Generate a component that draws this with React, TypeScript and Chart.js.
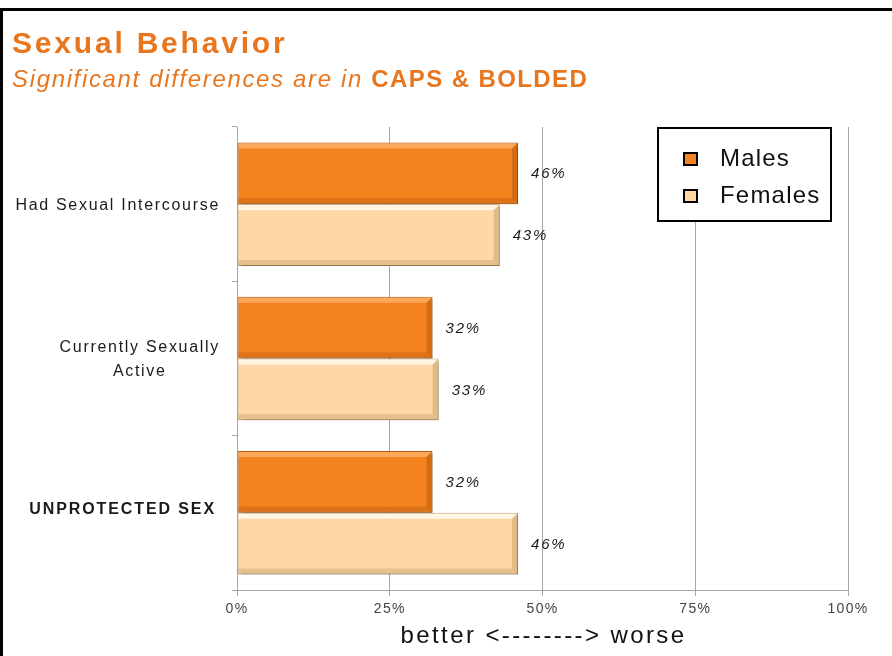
import React, { useEffect, useRef } from 'react';
import { Chart, registerables } from 'chart.js';

Chart.register(...registerables);

// ---- data ----
const categories: (string | string[])[] = ['Had Sexual Intercourse', ['Currently Sexually', 'Active'], 'UNPROTECTED SEX'];
const significant = [false, false, true];
const seriesNames = ['Males', 'Females'];
const malesValues = [46, 32, 32];
const femalesValues = [43, 33, 46];
const xTickStep = 25;
const xMin = 0;
const xMax = 100;
const xAxisTitle = 'better <--------> worse';
const chartTitle = 'Sexual Behavior';
const subtitleItalic = 'Significant differences are in ';
const subtitleBold = 'CAPS & BOLDED';

// ---- styles ----
const FONT = '"Liberation Sans", Arial, sans-serif';
const ORANGE_TEXT = '#E8761E';
const MALE_FILL = '#F4821E';
const MALE_BORDER = '#B95C12';
const FEMALE_FILL = '#FDD8A6';
const FEMALE_BORDER = '#C49E6C';
const GRID = '#A6A6A6';

function drawSpaced(ctx: CanvasRenderingContext2D, text: string, x: number, y: number, spacing: number) {
  (ctx as any).letterSpacing = spacing + 'px';
  ctx.fillText(text, x, y);
}

const decorPlugin = {
  id: 'decor',
  beforeDraw(chart: any) {
    const ctx = chart.ctx as CanvasRenderingContext2D;
    ctx.save();
    ctx.fillStyle = '#ffffff';
    ctx.fillRect(0, 0, chart.width, chart.height);
    ctx.restore();
    (ctx as any).letterSpacing = '1.3px';
  },
  beforeDatasetsDraw(chart: any) {
    const ctx = chart.ctx as CanvasRenderingContext2D;
    ctx.save();
    ctx.shadowColor = 'rgba(0,0,0,0.35)';
    ctx.shadowBlur = 3;
    ctx.shadowOffsetX = 2;
    ctx.shadowOffsetY = 2;
  },
  afterDatasetsDraw(chart: any) {
    const ctx = chart.ctx as CanvasRenderingContext2D;
    ctx.restore();
    // bevel overlays
    chart.data.datasets.forEach((ds: any, di: number) => {
      const meta = chart.getDatasetMeta(di);
      meta.data.forEach((bar: any) => {
        const { x, y, base, height } = bar.getProps(['x', 'y', 'base', 'height'], true);
        const x0 = Math.min(x, base);
        const x1 = Math.max(x, base);
        const y0 = y - height / 2;
        const y1 = y + height / 2;
        const b = 6;
        const light = di === 0 ? 'rgba(255,200,140,0.55)' : 'rgba(255,252,238,0.85)';
        const darkR = di === 0 ? 'rgba(140,60,0,0.30)' : 'rgba(150,110,50,0.28)';
        const darkB = di === 0 ? 'rgba(140,60,0,0.22)' : 'rgba(150,110,50,0.22)';
        ctx.save();
        ctx.fillStyle = light;
        ctx.beginPath();
        ctx.moveTo(x0 + 1, y0 + 1);
        ctx.lineTo(x1 - 1, y0 + 1);
        ctx.lineTo(x1 - b, y0 + b);
        ctx.lineTo(x0 + 1, y0 + b);
        ctx.closePath();
        ctx.fill();
        ctx.fillStyle = darkR;
        ctx.beginPath();
        ctx.moveTo(x1 - 1, y0 + 1);
        ctx.lineTo(x1 - 1, y1 - 1);
        ctx.lineTo(x1 - b, y1 - b);
        ctx.lineTo(x1 - b, y0 + b);
        ctx.closePath();
        ctx.fill();
        ctx.fillStyle = darkB;
        ctx.beginPath();
        ctx.moveTo(x0 + 1, y1 - 1);
        ctx.lineTo(x1 - 1, y1 - 1);
        ctx.lineTo(x1 - b, y1 - b);
        ctx.lineTo(x0 + 1, y1 - b);
        ctx.closePath();
        ctx.fill();
        ctx.restore();
      });
    });
    // value labels
    ctx.save();
    ctx.font = `italic 15px ${FONT}`;
    ctx.fillStyle = '#1a1a1a';
    ctx.textAlign = 'left';
    ctx.textBaseline = 'middle';
    chart.data.datasets.forEach((ds: any, di: number) => {
      const meta = chart.getDatasetMeta(di);
      meta.data.forEach((bar: any, i: number) => {
        const { x, y } = bar.getProps(['x', 'y'], true);
        drawSpaced(ctx, ds.data[i] + '%', x + 13, y + 1, 1.8);
      });
    });
    ctx.restore();
  },
  afterDraw(chart: any) {
    const ctx = chart.ctx as CanvasRenderingContext2D;
    const area = chart.chartArea;
    const yScale = chart.scales.y;

    // page frame
    ctx.save();
    ctx.fillStyle = '#000';
    ctx.fillRect(0, 8, chart.width, 3);
    ctx.fillRect(0, 8, 3, chart.height - 8);
    ctx.restore();

    // titles
    ctx.save();
    ctx.fillStyle = ORANGE_TEXT;
    ctx.textAlign = 'left';
    ctx.textBaseline = 'alphabetic';
    ctx.font = `bold 30px ${FONT}`;
    drawSpaced(ctx, chartTitle, 12, 53, 2.8);
    ctx.font = `italic 24px ${FONT}`;
    (ctx as any).letterSpacing = '1.65px';
    ctx.fillText(subtitleItalic, 12, 87);
    const w = ctx.measureText(subtitleItalic).width;
    ctx.font = `bold 24px ${FONT}`;
    (ctx as any).letterSpacing = '1.4px';
    ctx.fillText(subtitleBold, 12 + w, 87);
    ctx.restore();

    // category labels
    ctx.save();
    ctx.fillStyle = '#1a1a1a';
    ctx.textBaseline = 'middle';
    ctx.textAlign = 'center';
    const right = area.left - 18;
    categories.forEach((cat, i) => {
      const lines = Array.isArray(cat) ? cat : [cat];
      ctx.font = `${significant[i] ? 'bold ' : ''}16px ${FONT}`;
      (ctx as any).letterSpacing = significant[i] ? '1.9px' : '1.7px';
      const widths = lines.map((l) => ctx.measureText(l).width);
      const bw = Math.max(...widths);
      const cx = right - bw / 2 - (significant[i] ? 4 : 0);
      const cy = yScale.getPixelForValue(i) - (significant[i] ? 4 : 0);
      const lh = 24;
      lines.forEach((l, li) => {
        const ly = cy - ((lines.length - 1) * lh) / 2 + li * lh;
        ctx.fillText(l, cx + 1, ly + 1);
      });
    });
    ctx.restore();

    // x axis title
    ctx.save();
    ctx.fillStyle = '#111';
    ctx.textAlign = 'center';
    ctx.textBaseline = 'alphabetic';
    ctx.font = `24px ${FONT}`;
    drawSpaced(ctx, xAxisTitle, (area.left + area.right) / 2 + 1, 643, 2.4);
    ctx.restore();

    // legend
    const lx = area.right - 191;
    const ly = area.top;
    const lw = 175;
    const lh = 95;
    ctx.save();
    ctx.fillStyle = '#fff';
    ctx.fillRect(lx, ly, lw, lh);
    ctx.strokeStyle = '#000';
    ctx.lineWidth = 2;
    ctx.strokeRect(lx + 1, ly + 1, lw - 2, lh - 2);
    ctx.font = `24px ${FONT}`;
    ctx.textAlign = 'left';
    ctx.textBaseline = 'middle';
    (ctx as any).letterSpacing = '1.2px';
    chart.data.datasets.forEach((ds: any, di: number) => {
      const cy = ly + 32 + di * 37;
      ctx.fillStyle = ds.backgroundColor;
      ctx.fillRect(lx + 27, cy - 6, 13, 12);
      ctx.strokeStyle = '#000';
      ctx.lineWidth = 2;
      ctx.strokeRect(lx + 27, cy - 6, 13, 12);
      ctx.fillStyle = '#111';
      ctx.fillText(ds.label, lx + 63, cy);
    });
    ctx.restore();
  },
};

export default function App() {
  const ref = useRef<HTMLCanvasElement | null>(null);

  useEffect(() => {
    if (!ref.current) return;
    const chart = new Chart(ref.current, {
      type: 'bar',
      data: {
        labels: categories.map((c) => (Array.isArray(c) ? c.join(' ') : c)),
        datasets: [
          {
            label: seriesNames[0],
            data: malesValues,
            backgroundColor: MALE_FILL,
            borderColor: MALE_BORDER,
            borderWidth: 1,
            borderSkipped: false,
            categoryPercentage: 0.8,
            barPercentage: 1.0,
          },
          {
            label: seriesNames[1],
            data: femalesValues,
            backgroundColor: FEMALE_FILL,
            borderColor: FEMALE_BORDER,
            borderWidth: 1,
            borderSkipped: false,
            categoryPercentage: 0.8,
            barPercentage: 1.0,
          },
        ],
      },
      options: {
        indexAxis: 'y',
        animation: false,
        responsive: false,
        layout: { padding: { top: 127, right: 44, left: 0, bottom: 0 } },
        plugins: {
          legend: { display: false },
          title: { display: false },
          tooltip: { enabled: false },
        },
        scales: {
          x: {
            type: 'linear',
            min: xMin,
            max: xMax,
            ticks: {
              stepSize: xTickStep,
              callback: (v: any) => v + '%',
              font: { family: FONT, size: 14 },
              color: '#444',
              padding: 5,
            },
            grid: { color: GRID, lineWidth: 1, tickLength: 6, drawTicks: true },
            border: { color: GRID, width: 1 },
            afterFit: (s: any) => {
              s.height = 66;
            },
          },
          y: {
            type: 'category',
            ticks: { display: false },
            grid: { offset: true, drawOnChartArea: false, drawTicks: true, tickLength: 5, color: GRID },
            border: { color: GRID, width: 1 },
            afterFit: (s: any) => {
              s.width = 237;
            },
          },
        },
      },
      plugins: [decorPlugin],
    });
    return () => chart.destroy();
  }, []);

  return (
    <div style={{ position: 'absolute', left: 0, top: 0, width: 892, height: 656, background: '#fff' }}>
      <canvas ref={ref} width={892} height={656} style={{ display: 'block' }} />
    </div>
  );
}
